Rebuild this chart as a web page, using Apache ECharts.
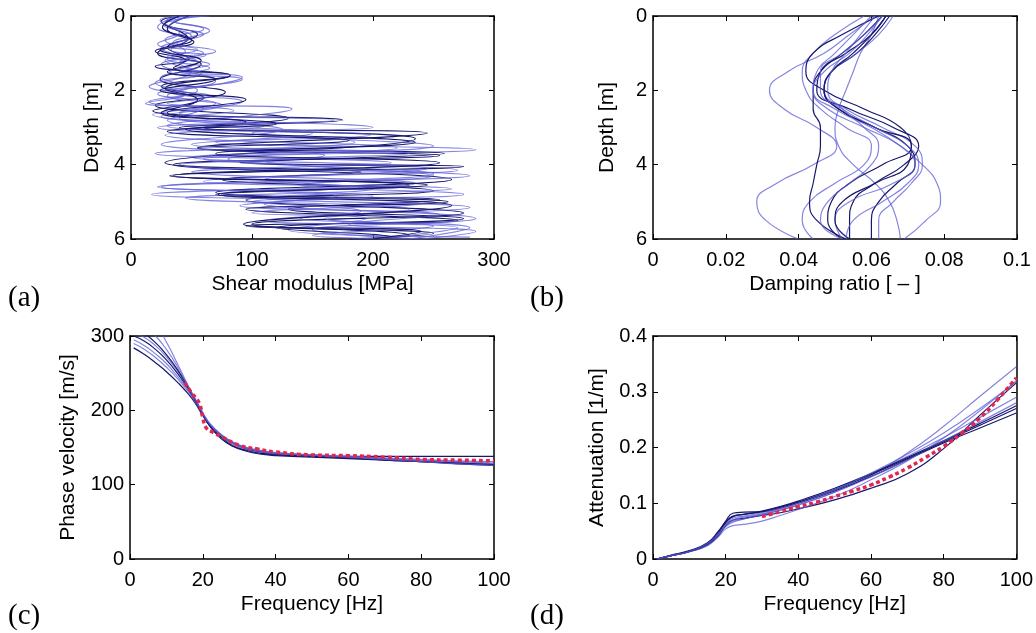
<!DOCTYPE html>
<html><head><meta charset="utf-8">
<script src="https://cdn.jsdelivr.net/npm/echarts@6/dist/echarts.min.js"></script>
<style>html,body{margin:0;padding:0;background:#fff}#c{width:1036px;height:633px}</style>
</head><body><div id="c"></div><script>
// ---------- (a) shear modulus [MPa] vs depth [m]: [G, depth] turning points ----------
const shear1 = [[50,0],[25,0.15],[47,0.6],[22,1.0],[58,1.3],[24,1.7],[78,2.05],[20,2.4],[130,2.75],[40,3.0],[245,3.15],[55,3.55],[255,3.75],[35,4.0],[265,4.4],[70,4.75],[262,5.0],[95,5.2],[270,5.5],[95,5.65],[250,5.85],[180,6]];
const shear2 = [[42,0],[28,0.2],[55,0.5],[30,0.85],[48,1.15],[20,1.35],[82,1.6],[25,1.9],[60,2.2],[18,2.55],[175,2.8],[60,3.0],[235,3.3],[28,3.95],[190,4.2],[75,4.4],[250,4.7],[95,4.95],[275,5.3],[100,5.6],[230,5.9],[200,6]];
const shear3 = [[60,0],[30,0.1],[65,0.4],[35,0.7],[70,0.95],[28,1.2],[50,1.5],[15,1.9],[65,2.15],[30,2.35],[133,2.5],[30,2.95],[198,3.2],[70,3.4],[285,3.6],[80,3.85],[250,4.3],[22,4.6],[200,4.85],[110,5.05],[285,5.45],[150,5.75],[240,6]];
const shear4 = [[55,0],[27,0.25],[50,0.55],[33,0.9],[62,1.05],[25,1.3],[70,1.75],[35,2.05],[92,2.3],[40,2.6],[168,2.8],[22,3.0],[185,3.4],[20,3.7],[215,3.95],[50,4.2],[235,4.5],[17,4.8],[240,5.05],[100,5.3],[195,5.45],[130,5.75],[280,5.95]];
const shear5 = [[38,0],[22,0.3],[45,0.6],[25,0.85],[55,1.25],[32,1.5],[92,1.7],[22,2.1],[70,2.35],[18,2.65],[200,3.0],[100,3.15],[250,3.5],[60,3.85],[270,4.15],[110,4.4],[200,4.65],[45,4.9],[230,5.2],[160,5.45],[280,5.7],[230,6]];
const shear6 = [[48,0],[30,0.35],[52,0.7],[20,0.95],[45,1.2],[35,1.4],[82,1.6],[28,1.95],[55,2.25],[25,2.6],[95,2.85],[30,3.1],[180,3.35],[55,3.55],[259,3.7],[90,3.95],[275,4.05],[32,4.3],[230,4.55],[70,4.8],[255,4.95],[130,5.2],[275,5.45],[120,5.7],[215,5.95],[190,6]];
const shear7 = [[65,0],[35,0.15],[60,0.35],[28,0.65],[45,0.95],[30,1.15],[65,1.4],[25,1.65],[55,2.0],[15,2.3],[85,2.55],[40,2.75],[125,3.05],[25,3.45],[160,3.75],[40,4.0],[280,4.3],[140,4.55],[275,4.8],[100,5.0],[190,5.25],[110,5.5],[270,5.7],[200,6]];
const shear8 = [[45,0],[24,0.12],[40,0.45],[22,0.75],[60,1.0],[40,1.25],[58,1.55],[20,1.8],[45,2.1],[12,2.35],[60,2.5],[30,2.8],[150,3.15],[50,3.45],[230,3.7],[110,3.9],[250,4.25],[25,4.6],[170,4.85],[90,5.1],[255,5.35],[180,5.6],[285,5.8],[240,6]];
const shear9 = [[50,0],[32,0.25],[60,0.5],[38,0.75],[55,0.9],[30,1.1],[65,1.3],[40,1.5],[92,1.65],[30,2.15],[75,2.4],[25,2.7],[110,2.95],[28,3.2],[220,3.55],[50,3.8],[245,4.1],[60,4.45],[265,4.65],[110,4.9],[280,5.15],[140,5.45],[250,5.65],[150,5.9],[230,6]];
const shear10 = [[40,0],[26,0.3],[50,0.65],[24,0.9],[58,1.2],[30,1.5],[70,1.7],[24,2.0],[95,2.25],[30,2.6],[120,2.9],[45,3.05],[235,3.4],[70,3.7],[255,3.95],[35,4.3],[245,4.55],[72,4.8],[265,5.1],[93,5.6],[240,5.8],[200,6]];

// ---------- (b) damping ratio vs depth ----------
const dampDepths = [0,0.5,1,1.5,2,2.5,3,3.5,4,4.5,5,5.5,6];
const damp1  = [0.061,0.054,0.047,0.037,0.032,0.036,0.045,0.0505,0.044,0.034,0.0285,0.031,0.040];
const damp2  = [0.058,0.050,0.044,0.041,0.042,0.046,0.053,0.060,0.058,0.050,0.043,0.041,0.044];
const damp3  = [0.062,0.060,0.057,0.055,0.053,0.051,0.050,0.051,0.055,0.061,0.065,0.067,0.068];
const damp4  = [0.062,0.052,0.044,0.042,0.047,0.058,0.068,0.071,0.063,0.054,0.049,0.048,0.052];
const damp5  = [0.063,0.058,0.052,0.046,0.044,0.044,0.046,0.046,0.045,0.044,0.043,0.045,0.053];
const damp6  = [0.064,0.060,0.053,0.046,0.045,0.054,0.066,0.073,0.069,0.061,0.055,0.054,0.054];
const damp7  = [0.065,0.061,0.056,0.049,0.047,0.051,0.061,0.070,0.072,0.067,0.062,0.060,0.060];
const damp8  = [0.066,0.062,0.056,0.049,0.047,0.053,0.063,0.072,0.074,0.071,0.066,0.062,0.062];
const damp9  = [0.060,0.055,0.050,0.045,0.044,0.050,0.060,0.068,0.074,0.078,0.079,0.075,0.069];
const damp10 = [0.063,0.059,0.054,0.047,0.044,0.048,0.058,0.068,0.072,0.066,0.054,0.050,0.052];
const damp11 = [0.064,0.060,0.055,0.049,0.047,0.051,0.061,0.071,0.070,0.061,0.052,0.050,0.054];
const damp12 = [0.063,0.058,0.052,0.046,0.046,0.052,0.061,0.070,0.073,0.070,0.063,0.055,0.053];
const damp13 = [0.061,0.057,0.053,0.049,0.048,0.052,0.058,0.062,0.060,0.054,0.048,0.046,0.052];

// ---------- (c) phase velocity [m/s] vs frequency [Hz] ----------
const velFreq = [1,4,7,10,13,16,18,20,22,25,28,32,36,40,50,60,70,80,90,100];
const vel1 = [284,275,264,252,238,222,209,193,180,167,157,148,144,141,139,138,138,138,138,138];
const vel2 = [290,282,271,258,243,225,210,193,179,165,155,147,143,141,139,137,135,133,131,129];
const vel3 = [295,287,276,263,246,227,211,194,180,166,156,149,145,142,139,137,134,131,129,127];
const vel4 = [300,293,282,268,250,229,212,194,179,164,153,146,142,140,138,136,133,131,128,126];
const vel5 = [304,298,287,272,253,230,213,195,180,166,156,149,145,142,140,138,135,132,130,128];
const vel6 = [310,303,291,275,255,231,214,195,178,162,152,145,141,139,137,135,133,131,129,127];
const vel7 = [320,312,300,282,259,232,214,196,181,167,157,150,146,143,140,138,136,134,132,131];
const vel8 = [335,328,315,292,263,233,215,197,182,168,158,150,146,143,140,137,134,131,128,126];
const velMeasFreq = [15,17,19,20,21,23,25,30,35,40,50,60,70,80,90,100];
const velMeas = [237,223,210,190,176,170,165,153,148,144,140,139,137,134,133,132];

// ---------- (d) attenuation [1/m] vs frequency [Hz] ----------
const attFreq = [1,5,10,15,18,20,22,25,30,35,40,50,60,70,80,90,100];
const att1 = [0,0.006,0.014,0.028,0.045,0.058,0.066,0.072,0.080,0.088,0.097,0.120,0.150,0.190,0.238,0.292,0.345];
const att2 = [0,0.006,0.013,0.025,0.042,0.060,0.070,0.073,0.078,0.083,0.090,0.106,0.127,0.153,0.198,0.258,0.316];
const att3 = [0,0.006,0.014,0.027,0.048,0.068,0.082,0.084,0.085,0.091,0.100,0.122,0.148,0.178,0.208,0.235,0.262];
const att4 = [0,0.006,0.014,0.028,0.046,0.062,0.073,0.077,0.083,0.092,0.102,0.125,0.153,0.184,0.218,0.254,0.290];
const att5 = [0,0.007,0.015,0.029,0.050,0.066,0.077,0.080,0.086,0.094,0.104,0.127,0.153,0.182,0.212,0.243,0.275];
const att6 = [0,0.006,0.013,0.026,0.044,0.059,0.068,0.072,0.079,0.087,0.097,0.120,0.147,0.178,0.212,0.246,0.280];
const att7 = [0,0.006,0.013,0.024,0.040,0.054,0.060,0.062,0.068,0.078,0.089,0.112,0.142,0.176,0.217,0.266,0.320];
const att8 = [0,0.006,0.014,0.027,0.047,0.065,0.076,0.080,0.085,0.093,0.102,0.124,0.151,0.180,0.210,0.240,0.270];
const att9 = [0,0.006,0.014,0.028,0.046,0.061,0.070,0.075,0.081,0.090,0.100,0.124,0.154,0.188,0.226,0.270,0.318];
const attMeasFreq = [30,35,40,45,50,55,60,65,70,75,80,85,90,95,100];
const attMeas = [0.076,0.085,0.094,0.102,0.112,0.122,0.133,0.147,0.163,0.182,0.202,0.226,0.253,0.287,0.325];

// ---------- styling ----------
const FONT = '"Liberation Sans", Arial, Helvetica, sans-serif';
const DARK = '#17176c';
const LIGHT = 'rgba(92,92,214,0.75)';
const RED = '#e0284f';

const shearCurves = [shear1,shear2,shear3,shear4,shear5,shear6,shear7,shear8,shear9,shear10];
const shearColors = [DARK,DARK,LIGHT,LIGHT,LIGHT,DARK,LIGHT,LIGHT,LIGHT,DARK];
const dampCurves = [damp1,damp2,damp3,damp4,damp5,damp6,damp7,damp8,damp9,damp10,damp11,damp12,damp13];
const dampColors = [LIGHT,LIGHT,LIGHT,DARK,DARK,DARK,DARK,LIGHT,LIGHT,LIGHT,DARK,LIGHT,LIGHT];
const velCurves = [vel1,vel2,vel3,vel4,vel5,vel6,vel7,vel8];
const velColors = [DARK,LIGHT,LIGHT,DARK,LIGHT,DARK,LIGHT,LIGHT];
const attCurves = [att1,att2,att3,att4,att5,att6,att7,att8,att9];
const attColors = [LIGHT,DARK,DARK,LIGHT,DARK,LIGHT,LIGHT,DARK,LIGHT];

const grids = [
  {left:131, top:16, width:363, height:223},
  {left:653, top:16, width:364, height:223},
  {left:130, top:336, width:364, height:223},
  {left:653, top:336, width:364, height:223}
];

function axis(kind, gi, o, mirror) {
  const a = {
    type:'value', gridIndex:gi, min:o.min, max:o.max, interval:o.interval,
    inverse: !!o.inverse,
    position: kind==='x' ? (mirror?'top':'bottom') : (mirror?'right':'left'),
    axisLine:{show:true, onZero:false, lineStyle:{color:'#000', width:1.5}},
    axisTick:{show:true, inside:true, length:5, lineStyle:{color:'#000', width:1}},
    axisLabel:{show:!mirror, fontSize:20, fontFamily:FONT, color:'#000', margin: kind==='x'?11:6},
    splitLine:{show:false}
  };
  if (!mirror && o.name) {
    a.name = o.name; a.nameLocation = 'middle'; a.nameGap = o.gap;
    a.nameTextStyle = {fontSize:21, fontFamily:FONT, color:'#000'};
  }
  return a;
}

const xDefs = [
  {min:0,max:300,interval:100,name:'Shear modulus [MPa]',gap:35},
  {min:0,max:0.1,interval:0.02,name:'Damping ratio [ \u2013 ]',gap:35},
  {min:0,max:100,interval:20,name:'Frequency [Hz]',gap:35},
  {min:0,max:100,interval:20,name:'Frequency [Hz]',gap:35}
];
const yDefs = [
  {min:0,max:6,interval:2,inverse:true,name:'Depth [m]',gap:28},
  {min:0,max:6,interval:2,inverse:true,name:'Depth [m]',gap:35},
  {min:0,max:300,interval:100,name:'Phase velocity [m/s]',gap:51},
  {min:0,max:0.4,interval:0.1,name:'Attenuation [1/m]',gap:45}
];

const xAxes = [], yAxes = [];
for (let i=0;i<4;i++){ xAxes.push(axis('x',i,xDefs[i],false)); yAxes.push(axis('y',i,yDefs[i],false)); }
for (let i=0;i<4;i++){ xAxes.push(axis('x',i,xDefs[i],true)); yAxes.push(axis('y',i,yDefs[i],true)); }

const series = [];
function addLine(data, gi, color, width, extra) {
  series.push(Object.assign({
    type:'line', xAxisIndex:gi, yAxisIndex:gi, data:data, symbol:'none', silent:true,
    smooth:0.5, clip:true, animation:false,
    lineStyle:{color:color, width:width}
  }, extra||{}));
}
shearCurves.forEach((c,i)=>addLine(c, 0, shearColors[i], 1.1));
dampCurves.forEach((c,i)=>addLine(c.map((v,k)=>[v, dampDepths[k]]), 1, dampColors[i], 1.2));
velCurves.forEach((c,i)=>addLine(c.map((v,k)=>[velFreq[k], v]), 2, velColors[i], 1.2));
attCurves.forEach((c,i)=>addLine(c.map((v,k)=>[attFreq[k], v]), 3, attColors[i], 1.2));
addLine(velMeas.map((v,k)=>[velMeasFreq[k], v]), 2, RED, 3.5, {z:5, lineStyle:{color:RED, width:3.5, type:[4,3]}});
addLine(attMeas.map((v,k)=>[attMeasFreq[k], v]), 3, RED, 3.5, {z:5, lineStyle:{color:RED, width:3.5, type:[4,3]}});

const panelLabels = [['(a)',8,300],['(b)',530,300],['(c)',8,618],['(d)',530,618]];
const graphic = panelLabels.map(p=>({
  type:'text', left:p[1], top:p[2]-16,
  style:{text:p[0], fontSize:29, fontFamily:'"Liberation Serif", "Times New Roman", serif', fill:'#000'}
}));

const chart = echarts.init(document.getElementById('c'), null, {renderer:'canvas'});
chart.setOption({
  animation:false,
  backgroundColor:'#fff',
  grid: grids.map(g=>Object.assign({containLabel:false, show:false}, g)),
  xAxis: xAxes, yAxis: yAxes,
  series: series,
  graphic: graphic
});
</script></body></html>
